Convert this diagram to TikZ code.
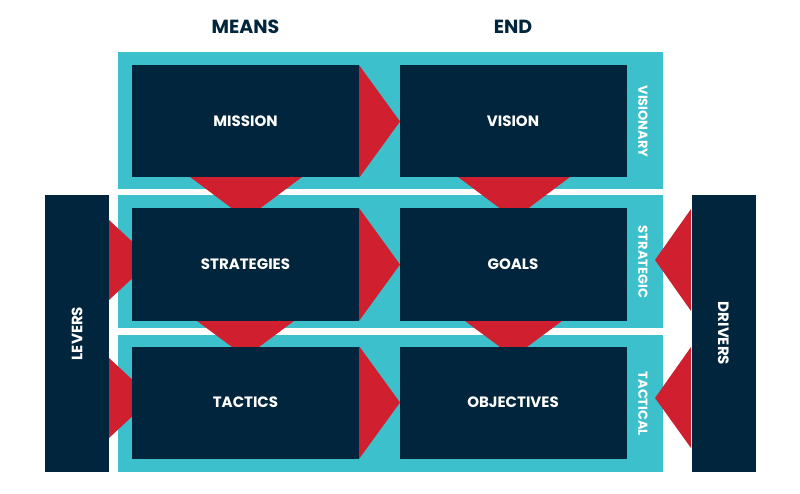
\documentclass[tikz,border=0pt]{standalone}
\usepackage{fontspec}
\setmainfont{Poppins}
\usepackage{tikz}
\usetikzlibrary{positioning}
\definecolor{navy}{HTML}{01253C}
\definecolor{teal}{HTML}{3CC0CC}
\definecolor{redd}{HTML}{D0202F}

\begin{document}
\begin{tikzpicture}[x=1pt,y=-1pt]
\tikzstyle{block} = [fill=navy, text=white, minimum width=227pt, minimum height=112pt, inner sep=0pt, font=\bfseries\fontsize{15}{15}\selectfont]
\tikzstyle{band} = [fill=teal]
\tikzstyle{bar} = [fill=navy, text=white, minimum width=64pt, minimum height=277pt, inner sep=0pt, font=\bfseries\fontsize{15}{15}\selectfont]
\tikzstyle{tag} = [text=white, rotate=-90, font=\bfseries\fontsize{13}{13}\selectfont]
\tikzstyle{head} = [text=navy, font=\bfseries\fontsize{19}{19}\selectfont]
\tikzstyle{arrowhead} = [fill=redd]

\useasboundingbox (0,0) rectangle (800,494);

    % bands
    \fill[band] (118,52) rectangle (663,189);
    \fill[band] (118,195) rectangle (663,328);
    \fill[band] (118,335) rectangle (663,472);

    % heads between rows
    \fill[arrowhead] (190,177) -- (302,177) -- (246,219) -- cycle;
    \fill[arrowhead] (458,177) -- (570,177) -- (514,219) -- cycle;
    \fill[arrowhead] (197,321) -- (294,321) -- (245.5,357) -- cycle;
    \fill[arrowhead] (465,321) -- (562,321) -- (513.5,357) -- cycle;
    % heads from the bars
    \fill[arrowhead] (109,220) -- (109,300) -- (152,260) -- cycle;
    \fill[arrowhead] (109,358) -- (109,438) -- (152,398) -- cycle;
    \fill[arrowhead] (691,209) -- (691,311) -- (655,260) -- cycle;
    \fill[arrowhead] (691,347) -- (691,448) -- (655,398) -- cycle;

    \node [block] (mission) at (245.5,121.5) {MISSION};
    \node [block] (vision) at (513,121.5) {VISION};
    \node [block] (strategies) at (245.5,264.5) {STRATEGIES};
    \node [block] (goals) at (513,264.5) {GOALS};
    \node [block] (tactics) at (245.5,402.5) {TACTICS};
    \node [block] (objectives) at (513,402.5) {OBJECTIVES};

    % heads between the columns
    \fill[arrowhead] (mission.north east) -- (mission.south east) -- (400,121.5) -- cycle;
    \fill[arrowhead] (strategies.north east) -- (strategies.south east) -- (400,264.5) -- cycle;
    \fill[arrowhead] (tactics.north east) -- (tactics.south east) -- (400,402.5) -- cycle;

    \node [bar] (levers) at (77,333.5) {\rotatebox{90}{LEVERS}};
    \node [bar] (drivers) at (723.5,333.5) {\rotatebox{-90}{DRIVERS}};

    \node [tag] (visionary) at (643,121.5) {VISIONARY};
    \node [tag] (strategic) at (643,262) {STRATEGIC};
    \node [tag] (tactical) at (643,404) {TACTICAL};

    \node [head] (means) at (245.5,27) {MEANS};
    \node [head] (end) at (513,27) {END};

\end{tikzpicture}
\end{document}
